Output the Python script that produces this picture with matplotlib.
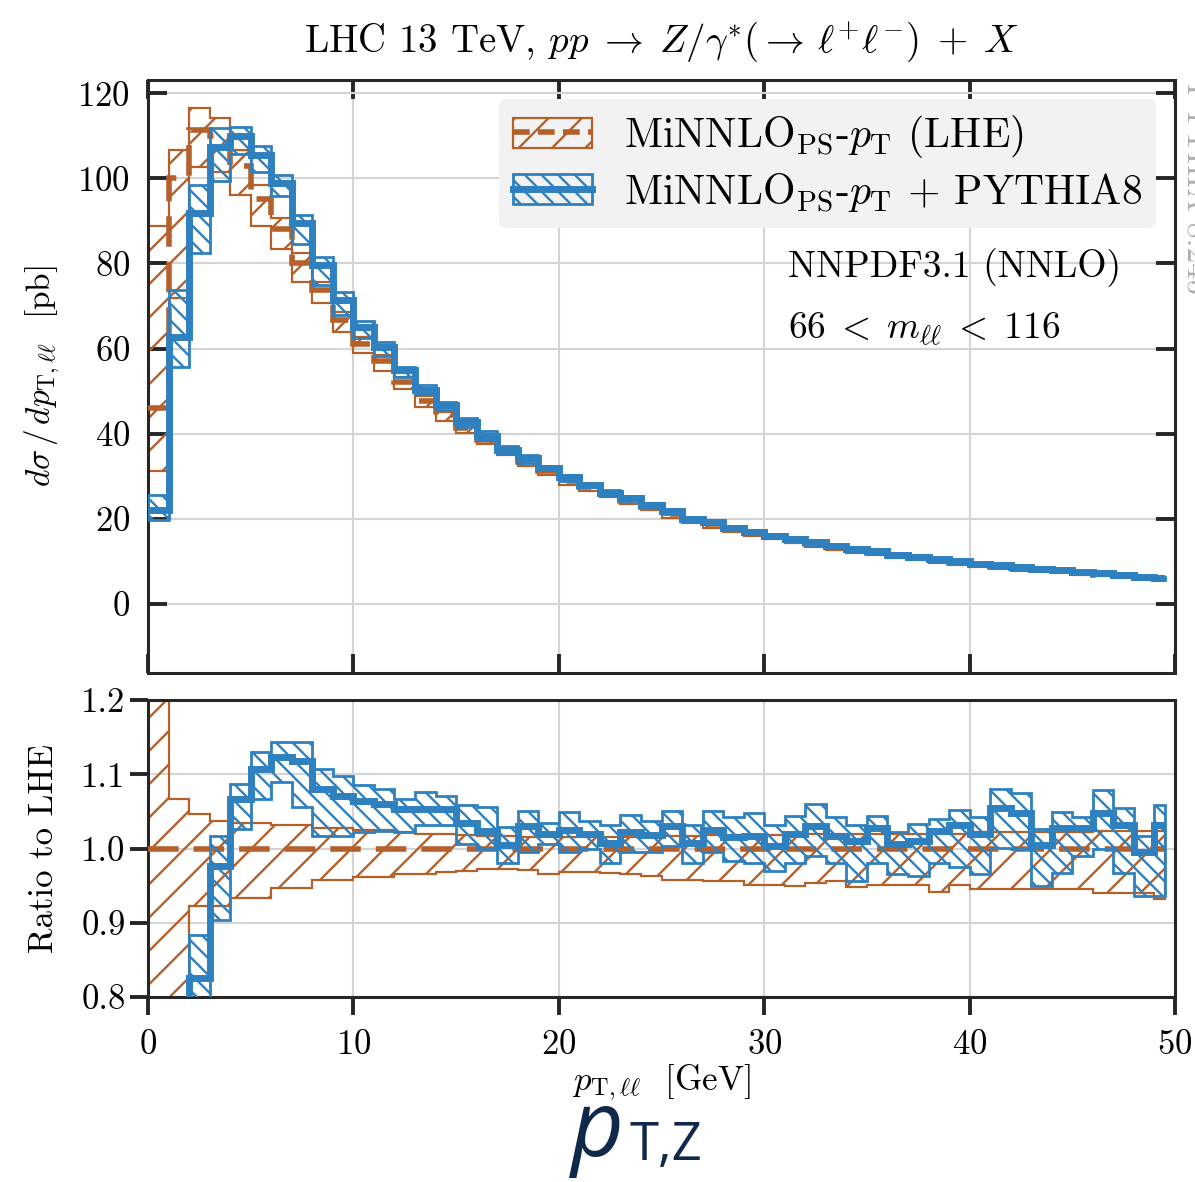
import numpy as np
import matplotlib
matplotlib.use('Agg')
import matplotlib.pyplot as plt
from matplotlib.patches import Patch
from matplotlib.lines import Line2D

# ---------------- data ----------------
bin_edges = list(range(50)) + [49.5]

lhe_central = [46, 100, 111.3, 110, 103, 95.2, 88, 80, 73.7, 66.7,
               61.2, 57, 52.2, 47.8, 44.3, 41.4, 38.6, 36.0, 33.4, 31.3,
               29.0, 27.4, 25.9, 24.3, 22.9, 21.2, 19.9, 18.8, 17.7, 16.7,
               16.0, 15.0, 14.1, 13.4, 12.7, 12.1, 11.4, 10.9, 10.3, 9.7,
               9.3, 8.8, 8.3, 8.1, 7.7, 7.3, 6.9, 6.6, 6.3, 6.0]

lhe_ratio_lo = [0.68, 0.72, 0.922, 0.922, 0.934, 0.934, 0.947, 0.947, 0.958, 0.958,
                0.962, 0.962, 0.966, 0.966, 0.968, 0.970, 0.972, 0.972, 0.971, 0.966,
                0.968, 0.968, 0.967, 0.965, 0.963, 0.957, 0.957, 0.956, 0.956, 0.951,
                0.951, 0.949, 0.953, 0.956, 0.948, 0.951, 0.951, 0.951, 0.941, 0.951,
                0.946, 0.946, 0.946, 0.946, 0.946, 0.946, 0.940, 0.940, 0.940, 0.932]

lhe_ratio_hi = [1.93, 1.067, 1.046, 1.037, 1.035, 1.035, 1.031, 1.031, 1.028, 1.028,
                1.025, 1.025, 1.022, 1.020, 1.019, 1.018, 1.017, 1.017, 1.016, 1.016,
                1.016, 1.016, 1.016, 1.016, 1.017, 1.017, 1.017, 1.018, 1.018, 1.018,
                1.018, 1.019, 1.019, 1.019, 1.020, 1.020, 1.020, 1.020, 1.020, 1.020,
                1.022, 1.022, 1.022, 1.022, 1.022, 1.022, 1.024, 1.024, 1.024, 1.024]

py8_ratio = [0.478, 0.628, 0.826, 0.977, 1.067, 1.107, 1.123, 1.118, 1.080, 1.071,
             1.064, 1.060, 1.053, 1.053, 1.053, 1.035, 1.024, 1.005, 1.030, 1.020,
             1.025, 1.020, 1.008, 1.022, 1.018, 1.030, 1.008, 1.025, 1.015, 1.017,
             1.003, 1.020, 1.030, 1.017, 1.010, 1.027, 1.006, 1.010, 1.024, 1.031,
             1.020, 1.055, 1.048, 1.005, 1.027, 1.027, 1.048, 1.031, 0.995, 1.031]

py8_ratio_lo = [0.43, 0.557, 0.74, 0.904, 1.026, 1.067, 1.089, 1.056, 1.017, 1.017,
                1.022, 1.023, 1.022, 1.031, 1.031, 1.006, 0.999, 0.981, 0.995, 1.006,
                0.995, 1.000, 0.981, 0.995, 0.995, 1.003, 0.980, 0.995, 0.983, 0.981,
                0.970, 0.981, 0.990, 0.981, 0.956, 0.981, 0.965, 0.963, 0.981, 0.975,
                0.965, 1.001, 1.000, 0.949, 0.967, 0.990, 1.000, 0.967, 0.936, 0.936]

py8_ratio_hi = [0.556, 0.737, 0.884, 1.017, 1.087, 1.130, 1.144, 1.143, 1.107, 1.098,
                1.085, 1.080, 1.067, 1.076, 1.071, 1.058, 1.056, 1.029, 1.051, 1.035,
                1.049, 1.037, 1.031, 1.045, 1.037, 1.051, 1.032, 1.051, 1.042, 1.048,
                1.032, 1.044, 1.060, 1.042, 1.031, 1.044, 1.022, 1.033, 1.040, 1.052,
                1.042, 1.080, 1.075, 1.026, 1.049, 1.042, 1.079, 1.054, 1.017, 1.058]

x_ticks = [0, 10, 20, 30, 40, 50]
main_yticks = [0, 20, 40, 60, 80, 100, 120]
ratio_yticks = [0.8, 0.9, 1.0, 1.1, 1.2]

label_lhe = r'MiNNLO$_{\rm PS}$-$p_{\rm T}$ (LHE)'
label_py8 = r'MiNNLO$_{\rm PS}$-$p_{\rm T}$ + PYTHIA8'

# ---------------- style ----------------
ORANGE = '#b3602b'
BLUE = '#2f80bf'
SPINE = '#262626'
GRID = '#d4d4d4'

plt.rcParams.update({
    'font.family': 'serif',
    'font.serif': ['cmr10'],
    'mathtext.fontset': 'cm',
    'axes.formatter.use_mathtext': True,
    'hatch.linewidth': 1.7,
    'axes.unicode_minus': False,
})

fig = plt.figure(figsize=(11.95, 11.82), dpi=100)
W, H = 1195.0, 1182.0
ax = fig.add_axes([148 / W, 1 - 673 / H, (1175 - 148) / W, (673 - 80) / H])
rx = fig.add_axes([148 / W, 1 - 997 / H, (1175 - 148) / W, (997 - 700) / H], sharex=ax)

edges = np.array(bin_edges, dtype=float)
lhe = np.array(lhe_central)
l_lo = np.array(lhe_ratio_lo)
l_hi = np.array(lhe_ratio_hi)
p = np.array(py8_ratio)
p_lo = np.array(py8_ratio_lo)
p_hi = np.array(py8_ratio_hi)


def draw(axis, scale):
    axis.stairs(l_hi * scale, edges, baseline=l_lo * scale, fill=True,
                facecolor='none', edgecolor=ORANGE, hatch='/', lw=1.6, zorder=2)
    axis.stairs(scale, edges, baseline=None, color=ORANGE, lw=4.0,
                linestyle=(0, (5.5, 2.7)), zorder=3)
    axis.stairs(p_hi * scale, edges, baseline=p_lo * scale, fill=True,
                facecolor='none', edgecolor=BLUE, hatch='\\\\', lw=2.0, zorder=4)
    axis.stairs(p * scale, edges, baseline=None, color=BLUE, lw=5.0, zorder=5)


draw(ax, lhe)
draw(rx, np.ones_like(lhe))

for a in (ax, rx):
    a.grid(True, color=GRID, lw=1.5, zorder=0)
    a.set_axisbelow(True)
    for s in a.spines.values():
        s.set_color(SPINE)
        s.set_linewidth(2.2)

ax.set_xlim(0, 50)
ax.set_ylim(-16.2, 123.1)
ax.set_xticks(x_ticks)
ax.set_yticks(main_yticks)
ax.tick_params(direction='in', length=14, width=2.8, top=True, right=True,
               labelbottom=False, labelsize=25, pad=13, color=SPINE)

rx.set_ylim(0.8, 1.2)
rx.set_yticks(ratio_yticks)
rx.set_yticklabels([f'{v:.1f}' for v in ratio_yticks])
rx.tick_params(direction='out', length=13, width=2.8, labelsize=25, pad=3,
               color=SPINE)
rx.tick_params(axis='x', pad=10)

ax.set_ylabel(r'$d\sigma\,/\,dp_{\rm T,\ell\ell}$  [pb]', fontsize=24)
ax.yaxis.set_label_coords(-86 / 1027, 0.5)
rx.set_ylabel('Ratio to LHE', fontsize=25)
rx.yaxis.set_label_coords(-88 / 1027, 0.5)
rx.set_xlabel(r'$p_{\rm T,\ell\ell}$  [GeV]', fontsize=25, labelpad=1)

ax.set_title(r'LHC 13 TeV, $pp \;\to\; Z/\gamma^{*}(\to\, \ell^{+}\ell^{-}) \;+\; X$',
             fontsize=28, pad=20)

# legend
h_lhe = (Patch(facecolor='none', edgecolor=ORANGE, hatch='/', lw=1.6),
         Line2D([], [], color=ORANGE, lw=4.0, linestyle=(0, (3.0, 1.5))))
h_py8 = (Patch(facecolor='none', edgecolor=BLUE, hatch='\\\\', lw=2.0),
         Line2D([], [], color=BLUE, lw=5.0))
leg = ax.legend([h_lhe, h_py8], [label_lhe, label_py8], loc='upper right',
                fontsize=30, frameon=True, fancybox=True, facecolor='#f2f2f2',
                edgecolor='none', framealpha=1.0, handlelength=1.9,
                handleheight=0.75, borderaxespad=0.45, labelspacing=0.25,
                handletextpad=0.75, borderpad=0.35)

ax.text(0.623, 0.683, 'NNPDF3.1 (NNLO)', transform=ax.transAxes,
        fontsize=27, va='center', ha='left')
ax.text(0.623, 0.580, r'$66\;<\;m_{\ell\ell}\;<\;116$', transform=ax.transAxes,
        fontsize=27, va='center', ha='left')

fig.text(1180 / W, 1 - 83 / H, 'PYTHIA 8.245', rotation=270, ha='left',
         va='top', fontsize=23, color='#b0b0b0')

# bottom caption
fig.text(624 / W, 1 - 1156 / H, 'p', family='Open Sans', style='italic',
         fontsize=66, color='#10294a', ha='right', va='baseline')
fig.text(629 / W, 1 - 1160 / H, 'T,Z', family='Open Sans',
         fontsize=38, color='#10294a', ha='left', va='baseline')

fig.savefig('out.png', dpi=100)
